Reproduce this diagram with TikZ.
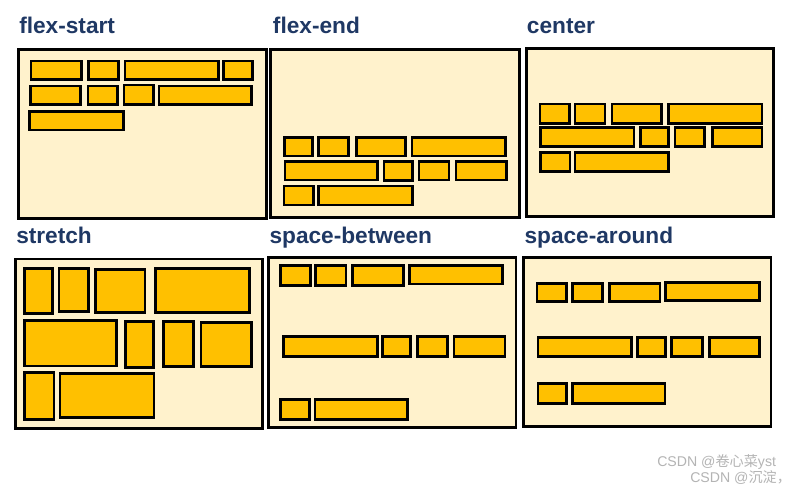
\documentclass[tikz,border=0pt]{standalone}
\usepackage{fontspec}
\setmainfont{Liberation Sans}
\newfontfamily\cjkfont{Noto Sans CJK SC}
\definecolor{titleblue}{HTML}{1F3864}
\definecolor{panelfill}{HTML}{FFF2CC}
\definecolor{itemfill}{HTML}{FFC000}
\definecolor{wmgray}{HTML}{B4B4B4}
\begin{document}
\begin{tikzpicture}[x=0.75pt,y=-0.75pt,
  panel/.style={draw=black,fill=panelfill,line width=2.1pt},
  item/.style={draw=black,fill=itemfill,line width=2pt},
  ttl/.style={anchor=base west,inner sep=0pt,text=titleblue,font=\fontsize{17}{20}\selectfont\bfseries},
  wm/.style={anchor=base west,inner sep=0pt,text=wmgray,font=\fontsize{10.6}{12}\selectfont}]
\useasboundingbox[fill=white] (0,0) rectangle (800,492);
% titles
\node[ttl] (t1) at (19,33.3) {flex-start};
\node[ttl] (t2) at (272.7,33.3) {flex-end};
\node[ttl] (t3) at (526.7,33.3) {center};
\node[ttl] (t4) at (16,243.3) {stretch};
\node[ttl] (t5) at (269.3,243.3) {space-between};
\node[ttl] (t6) at (524.3,243.3) {space-around};
% panels
\draw[panel] (18.3,49.3) rectangle (266.7,218.3);
\draw[panel] (270.7,49.3) rectangle (519.3,217.3);
\draw[panel] (526.7,48.3) rectangle (773.3,216.7);
\draw[panel] (15.7,259) rectangle (262.3,428.3);
\draw[panel] (268.3,257.7) rectangle (516,427.3);
\draw[panel] (523.3,257.3) rectangle (771,426.7);
% flex-start
\foreach \a/\b/\c/\d in {31/61/81.7/79.3, 88.3/61/118.3/79.3, 125/61/218.3/79.3, 223.3/61/252.7/79.3,
  30.3/86/80.7/104.3, 88/86/117.3/104.3, 124/85/153.3/104.3, 159/86/251.7/104.3,
  29.3/111.7/123.3/130}
  \draw[item] (\a,\b) rectangle (\c,\d);
% flex-end
\foreach \a/\b/\c/\d in {284.3/137.7/312.7/156, 318.7/137.7/348.3/156, 356.7/137.7/405.7/156, 412/137.7/505.7/156,
  285/161.7/377.7/180, 384/161.7/412.7/180.7, 419/161.7/449/180, 456/161.7/506.7/180,
  284/186/313.3/205, 318.7/186/412.3/205}
  \draw[item] (\a,\b) rectangle (\c,\d);
% center
\foreach \a/\b/\c/\d in {540/104/569.3/123.3, 575/104/605/123.3, 612/104/661.7/123.3, 668.7/104/762/123.3,
  540.7/127.7/634/146.7, 640.3/127.7/668.3/146.7, 675/127.7/704.3/146.7, 712.3/127.7/762/146.7,
  540.7/152.7/570/171.7, 575/152.7/668.3/171.7}
  \draw[item] (\a,\b) rectangle (\c,\d);
% stretch
\foreach \a/\b/\c/\d in {24.3/268.3/52.7/313.3, 59/268.3/88.3/311.7, 95.7/269.3/145/312.7, 155.7/268.3/249.3/312.3,
  24.3/320.7/116.7/366, 125.7/321.7/153.3/367.3, 163.3/321.7/193.3/366.7, 201/322.7/251.7/366.7,
  24.3/372.7/54/419.3, 60/373.3/154/417.7}
  \draw[item] (\a,\b) rectangle (\c,\d);
% space-between
\foreach \a/\b/\c/\d in {280.7/265.7/310.7/285.7, 315.7/265.7/346/285.7, 352.7/265.7/403.3/285.7, 409.7/265.7/502.7/284,
  283.3/336.7/377.3/356.7, 382.3/336.7/410.7/356.7, 417.3/336.7/447.3/356.7, 454/336.7/505/356.7,
  280.7/399.3/309.3/419.3, 315/399.3/407.7/419.3}
  \draw[item] (\a,\b) rectangle (\c,\d);
% space-around
\foreach \a/\b/\c/\d in {537/283.7/566.7/301.7, 572.3/283.7/602.3/301.7, 609.3/283.7/660/301.7, 665.7/282.7/759.3/300.7,
  538/337.3/631.7/356.7, 637.3/337.3/665.7/356.7, 671.3/337.3/702.3/356.7, 709.7/337.3/759.7/356.7,
  538/383.3/566.7/403.3, 572.3/383.3/665/403.3}
  \draw[item] (\a,\b) rectangle (\c,\d);
% watermark
\node[wm] (w1) at (657,466.5) {CSDN @{\cjkfont 卷心菜}yst};
\node[wm] (w2) at (690,482) {CSDN @{\cjkfont 沉淀，}};
\end{tikzpicture}
\end{document}
